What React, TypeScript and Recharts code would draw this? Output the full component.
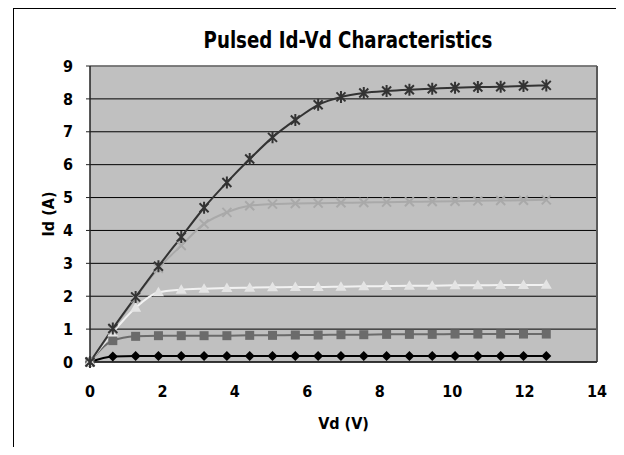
import {
  CartesianGrid,
  Line,
  LineChart,
  ReferenceLine,
  XAxis,
  YAxis,
} from "recharts";

const vd = [
  0, 0.63, 1.26, 1.89, 2.52, 3.15, 3.78, 4.41, 5.04, 5.67, 6.3, 6.93, 7.56,
  8.19, 8.82, 9.45, 10.08, 10.71, 11.34, 11.97, 12.6,
];

const idDiamond = [
  0, 0.17, 0.18, 0.18, 0.18, 0.18, 0.18, 0.18, 0.18, 0.18, 0.18, 0.18, 0.18,
  0.18, 0.18, 0.18, 0.18, 0.18, 0.18, 0.18, 0.18,
];
const idSquare = [
  0, 0.65, 0.78, 0.8, 0.8, 0.8, 0.8, 0.81, 0.81, 0.82, 0.82, 0.83, 0.83, 0.84,
  0.84, 0.84, 0.85, 0.85, 0.85, 0.85, 0.85,
];
const idTriangle = [
  0, 0.9, 1.65, 2.12, 2.2, 2.23, 2.25, 2.26, 2.27, 2.28, 2.28, 2.29, 2.3, 2.31,
  2.32, 2.32, 2.33, 2.33, 2.34, 2.34, 2.35,
];
const idCross = [
  0, 0.98, 1.95, 2.85, 3.54, 4.2, 4.55, 4.75, 4.8, 4.82, 4.83, 4.84, 4.85,
  4.86, 4.87, 4.88, 4.89, 4.9, 4.91, 4.92, 4.93,
];
const idStar = [
  0, 1.02, 1.98, 2.91, 3.8, 4.69, 5.46, 6.17, 6.83, 7.36, 7.82, 8.06, 8.18,
  8.24, 8.28, 8.31, 8.34, 8.36, 8.37, 8.39, 8.41,
];

const xTicks = [0, 2, 4, 6, 8, 10, 12, 14];
const yTicks = [0, 1, 2, 3, 4, 5, 6, 7, 8, 9];

const data = vd.map((v, i) => ({
  vd: v,
  diamond: idDiamond[i],
  square: idSquare[i],
  triangle: idTriangle[i],
  cross: idCross[i],
  star: idStar[i],
}));

const font = "'DejaVu Sans Condensed', 'Liberation Sans', sans-serif";

const Diamond = (color: string) => (p: any) => (
  <path
    key={p.index}
    d={`M${p.cx},${p.cy - 5} L${p.cx + 5},${p.cy} L${p.cx},${p.cy + 5} L${p.cx - 5},${p.cy} Z`}
    fill={color}
  />
);

const Square = (color: string) => (p: any) => (
  <rect key={p.index} x={p.cx - 4.5} y={p.cy - 4.5} width={9} height={9} fill={color} />
);

const Triangle = (color: string) => (p: any) => (
  <path
    key={p.index}
    d={`M${p.cx},${p.cy - 5.5} L${p.cx + 5.5},${p.cy + 4} L${p.cx - 5.5},${p.cy + 4} Z`}
    fill={color}
  />
);

const Cross = (color: string) => (p: any) => (
  <path
    key={p.index}
    d={`M${p.cx - 4.5},${p.cy - 4.5} L${p.cx + 4.5},${p.cy + 4.5} M${p.cx - 4.5},${p.cy + 4.5} L${p.cx + 4.5},${p.cy - 4.5}`}
    stroke={color}
    strokeWidth={2}
    fill="none"
  />
);

const Star = (color: string) => (p: any) => (
  <path
    key={p.index}
    d={`M${p.cx - 4.5},${p.cy - 4.5} L${p.cx + 4.5},${p.cy + 4.5} M${p.cx - 4.5},${p.cy + 4.5} L${p.cx + 4.5},${p.cy - 4.5} M${p.cx},${p.cy - 6} L${p.cx},${p.cy + 6}`}
    stroke={color}
    strokeWidth={2}
    fill="none"
  />
);

export default function App() {
  return (
    <div
      style={{
        position: "relative",
        width: 616,
        height: 447,
        marginBottom: -8,
        overflow: "hidden",
        fontFamily: font,
        fontWeight: "bold",
      }}
    >
      <div
        style={{
          position: "absolute",
          left: 5,
          top: 0,
          width: 609,
          height: 470,
          border: "1px solid #000",
          boxSizing: "border-box",
        }}
      />
      <div
        style={{
          position: "absolute",
          left: 340,
          top: 21,
          transform: "translateX(-50%) scaleX(0.88)",
          fontSize: 23,
          lineHeight: 1,
          whiteSpace: "nowrap",
          color: "#000",
        }}
      >
        Pulsed Id-Vd Characteristics
      </div>
      <LineChart
        width={616}
        height={447}
        data={data}
        margin={{ top: 58, right: 27, left: 0, bottom: 0 }}
        style={{ fontFamily: font, fontWeight: "bold" }}
      >
        <CartesianGrid vertical={false} stroke="#000" fill="#c0c0c0" fillOpacity={1} />
        <XAxis
          dataKey="vd"
          type="number"
          domain={[0, 14]}
          ticks={xTicks}
          height={93}
          tickLine={false}
          tickSize={0}
          tickMargin={24}
          axisLine={{ stroke: "#222", strokeWidth: 1.5 }}
          tick={{ fill: "#000", fontSize: 16, fontWeight: "bold" }}
          label={{
            value: "Vd (V)",
            position: "insideBottom",
            offset: 26,
            style: { fill: "#000", fontSize: 16, fontWeight: "bold", textAnchor: "middle" },
          }}
        />
        <YAxis
          type="number"
          domain={[0, 9]}
          ticks={yTicks}
          width={82}
          tickSize={4}
          tickMargin={13}
          tickLine={{ stroke: "#222" }}
          axisLine={{ stroke: "#222", strokeWidth: 1.5 }}
          tick={{ fill: "#000", fontSize: 16, fontWeight: "bold" }}
          label={{
            value: "Id (A)",
            angle: -90,
            position: "insideLeft",
            offset: 40,
            style: { fill: "#000", fontSize: 16, fontWeight: "bold", textAnchor: "middle" },
          }}
        />
        <ReferenceLine y={9} stroke="#808080" strokeWidth={1.5} />
        <ReferenceLine x={14} stroke="#5a5a5a" strokeWidth={2} />
        <Line
          type="monotone"
          dataKey="diamond"
          stroke="#000"
          strokeWidth={2}
          dot={Diamond("#000")}
          isAnimationActive={false}
        />
        <Line
          type="monotone"
          dataKey="square"
          stroke="#6b6b6b"
          strokeWidth={2}
          dot={Square("#6b6b6b")}
          isAnimationActive={false}
        />
        <Line
          type="monotone"
          dataKey="triangle"
          stroke="#f2f2f2"
          strokeWidth={2}
          dot={Triangle("#e4e4e4")}
          isAnimationActive={false}
        />
        <Line
          type="monotone"
          dataKey="cross"
          stroke="#a9a9a9"
          strokeWidth={2}
          dot={Cross("#a9a9a9")}
          isAnimationActive={false}
        />
        <Line
          type="monotone"
          dataKey="star"
          stroke="#333"
          strokeWidth={2}
          dot={Star("#333")}
          isAnimationActive={false}
        />
      </LineChart>
    </div>
  );
}
